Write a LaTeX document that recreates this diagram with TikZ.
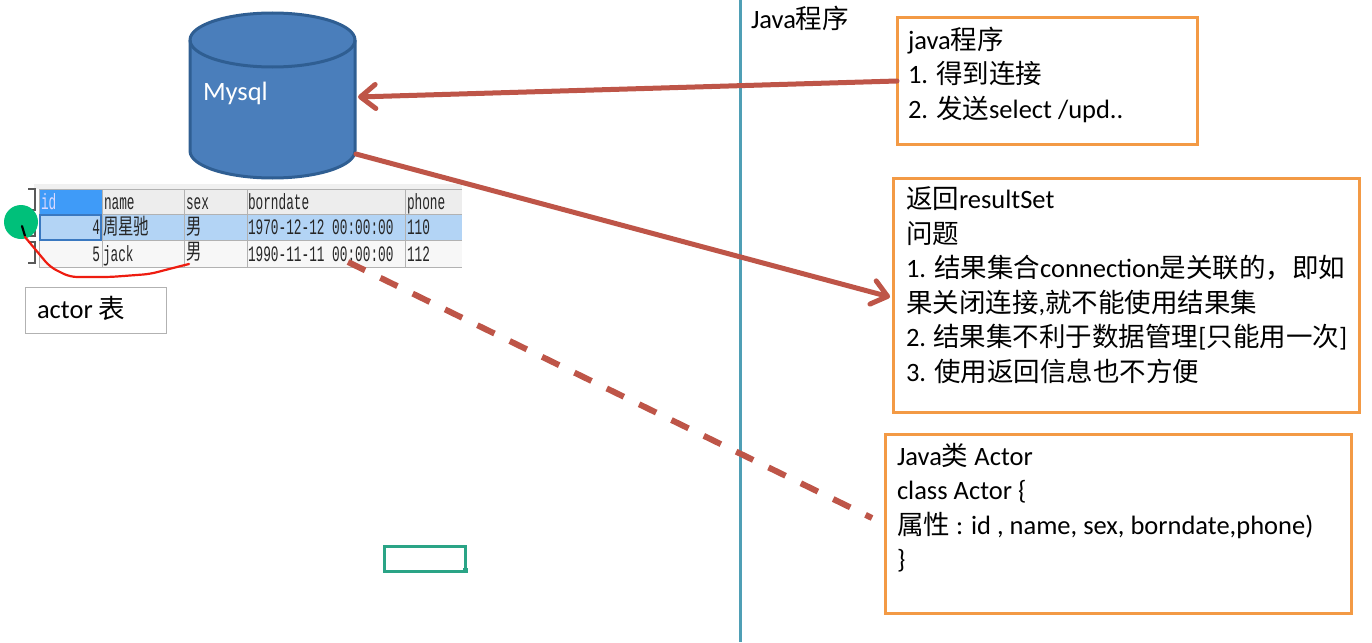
\documentclass[tikz,border=0pt]{standalone}
\usepackage{fontspec}
\usetikzlibrary{arrows.meta}
\setmainfont{Carlito}
\newfontfamily\cjk{Noto Sans CJK SC}
\newfontfamily\tblfont[FakeStretch=0.58]{Liberation Mono}
\newfontfamily\tblcjk[FakeStretch=0.7]{Noto Sans CJK SC}
\newcommand{\C}[1]{{\cjk #1}}
\newcommand{\TC}[1]{{\tblcjk #1}}
\definecolor{orangebox}{HTML}{F39A45}
\definecolor{redline}{HTML}{BE5548}
\definecolor{dbfill}{HTML}{4A7EBB}
\definecolor{dbedge}{HTML}{2F5E92}
\definecolor{tealline}{HTML}{4F9FB5}
\definecolor{idhead}{HTML}{3F9BF8}
\definecolor{rowsel}{HTML}{B3D4F5}
\definecolor{dotgreen}{HTML}{00C07A}
\definecolor{selgreen}{HTML}{2AA486}
\definecolor{inkred}{HTML}{EE1C10}
\definecolor{cellblue}{HTML}{3A78C0}
\tikzset{
  every node/.style={inner sep=0pt,outer sep=0pt},
  body/.style={font=\fontsize{26.5}{34.5}\selectfont,text=black},
  notebox/.style={draw=orangebox,line width=3pt,anchor=north west,inner xsep=11pt,inner ysep=9pt,body},
  bigarrow/.style={draw=redline,line width=5pt,line cap=round,-{Straight Barb[length=15pt,width=24pt,line width=5pt,round]}},
  dasharrow/.style={draw=redline,line width=6pt,dash pattern=on 19pt off 17pt},
  cell/.style={anchor=base west,font=\tblfont\fontsize{22}{24}\selectfont,text=black!85},
  grid/.style={draw=black!30,line width=1pt},
}
\begin{document}
\begin{tikzpicture}[x=1pt,y=-1pt]
\useasboundingbox (0,0) rectangle (1372,642);
\fill[white] (0,0) rectangle (1372,642);
% divider
\coordinate (divtop) at (740,0);
\coordinate (divbot) at (740,642);
\draw[tealline,line width=3pt] (divtop) -- (divbot);
\node[anchor=base west,body] (javalabel) at (751,29) {Java\C{程序}};
% database
\draw[dbedge,line width=3pt,fill=dbfill]
  (190,40) -- (190,151) arc[x radius=82.5,y radius=27,start angle=180,end angle=0]
  -- (355,40) arc[x radius=82.5,y radius=27,start angle=0,end angle=-180] -- cycle;
\draw[dbedge,line width=3pt]
  (190,40) arc[x radius=82.5,y radius=27,start angle=180,end angle=0];
\node[anchor=base west,body,text=white] (mysql) at (203,100) {Mysql};
\coordinate (dbin) at (358,97);
\coordinate (dbout) at (356,154);
% table
\fill[black!6] (34,184) rectangle (462,189);
\fill[black!7] (39,189) rectangle (462,214);
\fill[black!3] (39,240) rectangle (462,267);
\fill[rowsel] (39,214) rectangle (462,240);
\fill[idhead] (39,189) rectangle (102,214);
\draw[grid] (39,189) -- (462,189) (39,214) -- (462,214) (39,240) -- (462,240) (39,267) -- (462,267);
\foreach \cx in {39,102,184,247,405} {\draw[grid] (\cx,189) -- (\cx,267);}
\draw[cellblue,line width=1.5pt] (40,215) rectangle (101,240);
\foreach \ry in {189,215,242} {\draw[black!65,line width=2.5pt] (28,\ry) -- (35,\ry) -- (35,\ry+21) -- (28,\ry+21);}
\node[cell,text=blue!15!white] (h1) at (41,209) {id};
\node[cell] (h2) at (104,209) {name};
\node[cell] (h3) at (186,209) {sex};
\node[cell] (h4) at (248,209) {borndate};
\node[cell] (h5) at (407,209) {phone};
\node[cell,anchor=base east] (a1) at (100,234) {4};
\node[cell] (a2) at (103,234) {\TC{周星驰}};
\node[cell] (a3) at (186,234) {\TC{男}};
\node[cell] (a4) at (248,234) {1970-12-12 00:00:00};
\node[cell] (a5) at (407,234) {110};
\node[cell,anchor=base east] (b1) at (100,261) {5};
\node[cell] (b2) at (103,261) {jack};
\node[cell] (b3) at (186,259) {\TC{男}};
\node[cell] (b4) at (248,261) {1990-11-11 00:00:00};
\node[cell] (b5) at (407,261) {112};
\fill[dotgreen] (21,222) circle[radius=17];
\draw[black,line width=2.2pt,line cap=round] (22,226) -- (25,236);
\draw[inkred,line width=2.2pt,line cap=round,rounded corners=7pt]
  (25,237) -- (50,267) -- (70,277) -- (110,277) -- (150,274) -- (173,268) -- (189,264);
% actor box
\node[draw=black!30,line width=1pt,anchor=north west,minimum width=141pt,minimum height=46pt] (actor) at (25,287) {};
\node[anchor=base west,font=\fontsize{26.5}{30}\selectfont] (actortxt) at (37,318) {actor \C{表}};
% notes
\node[notebox] (box1) at (897,18) {\parbox[t][108pt][t]{278pt}{java\C{程序}\\1. \C{得到连接}\\2. \C{发送}select /upd..}};
\node[notebox,inner xsep=13pt] (box2) at (893,178) {\parbox[t][216pt][t]{440pt}{\C{返回}resultSet\\\C{问题}\\1. \C{结果集合}connection\C{是关联的，即如}\\\C{果关闭连接},\C{就不能使用结果集}\\2. \C{结果集不利于数据管理}[\C{只能用一次}]\\3. \C{使用返回信息也不方便}}};
\node[notebox,inner xsep=12pt] (box3) at (885,434) {\parbox[t][161pt][t]{442pt}{Java\C{类} Actor\\class Actor \{\\\C{属性} : id , name, sex, borndate,phone)\\\}}};
% connectors
\coordinate (javaout) at (897,81);
\coordinate (resin) at (890,297);
\coordinate (dashstart) at (348,262);
\coordinate (dashend) at (872,518);
\draw[bigarrow] (javaout) -- (dbin);
\draw[bigarrow] (dbout) -- (resin);
\draw[dasharrow] (dashstart) -- (dashend);
% selection rectangle
\node[draw=selgreen,anchor=north west,minimum width=81pt,minimum height=25pt,line width=3pt] (sel) at (384,546) {};
\fill[selgreen] (463,568) rectangle (468,573);
\end{tikzpicture}
\end{document}
